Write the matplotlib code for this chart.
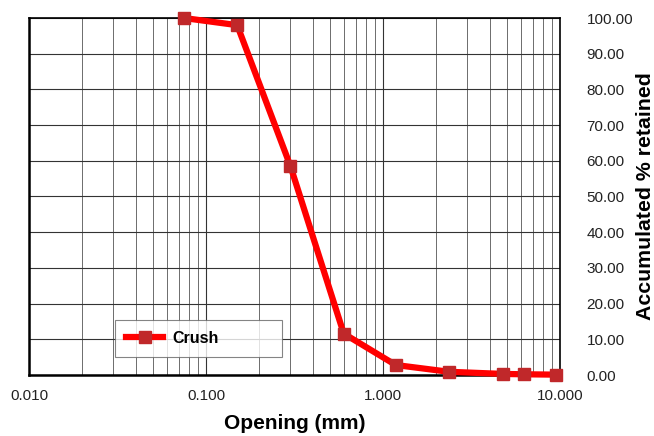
import matplotlib
matplotlib.use("Agg")
import matplotlib.pyplot as plt
from matplotlib.ticker import FixedLocator, LogLocator, NullFormatter

plt.rcParams["font.family"] = ["Liberation Sans", "DejaVu Sans"]

# Sieve openings (mm) and accumulated % retained
opening = [0.075, 0.15, 0.3, 0.6, 1.18, 2.36, 4.75, 6.3, 9.5]
retained = [100.0, 98.0, 58.5, 11.6, 2.8, 0.9, 0.3, 0.2, 0.1]
series_name = "Crush"

x_ticks = [0.01, 0.1, 1.0, 10.0]
x_labels = ["0.010", "0.100", "1.000", "10.000"]
y_ticks = [0, 10, 20, 30, 40, 50, 60, 70, 80, 90, 100]

fig = plt.figure(figsize=(6.54, 4.36), dpi=100)
ax = fig.add_axes([29 / 654, 1 - 375 / 436, 531 / 654, 357 / 436])

ax.plot(opening, retained, color="#ff0000", linewidth=4.5, marker="s",
        markersize=8, markerfacecolor="#c0282a", markeredgecolor="#c0282a",
        label=series_name, zorder=3, clip_on=False)

ax.set_xscale("log")
ax.set_xlim(0.01, 10)
ax.set_ylim(0, 100)

ax.xaxis.set_major_locator(FixedLocator(x_ticks))
ax.set_xticklabels(x_labels)
ax.xaxis.set_minor_locator(LogLocator(base=10, subs=range(2, 10)))
ax.xaxis.set_minor_formatter(NullFormatter())
ax.set_yticks(y_ticks)
ax.set_yticklabels([f"{v:.2f}" for v in y_ticks])

ax.yaxis.tick_right()
ax.yaxis.set_label_position("right")
ax.tick_params(axis="both", which="both", length=0, labelsize=11, colors="#222222")
ax.tick_params(axis="y", pad=19)
ax.tick_params(axis="x", pad=10)

ax.grid(True, which="major", axis="both", color="#333333", linewidth=0.8)
ax.grid(True, which="minor", axis="x", color="#555555", linewidth=0.6)
ax.set_axisbelow(True)

for side in ["left", "bottom", "top", "right"]:
    ax.spines[side].set_color("black")
ax.spines["left"].set_linewidth(1.8)
ax.spines["bottom"].set_linewidth(1.8)
ax.spines["top"].set_linewidth(1.2)
ax.spines["right"].set_linewidth(1.2)

ax.set_xlabel("Opening (mm)", fontsize=15, fontweight="bold", labelpad=8)
ax.set_ylabel("Accumulated % retained", fontsize=15.3, fontweight="bold", labelpad=2)

# legend box stretched to the same width as in the source
leg = ax.legend(loc="lower left", bbox_to_anchor=(0.162, 0.05, 0.315, 0.107),
                mode="expand", fontsize=11.5, frameon=True, fancybox=False,
                borderpad=0.7, borderaxespad=0, handlelength=2.3,
                handletextpad=0.6)
leg.get_frame().set_edgecolor("#666666")
leg.get_frame().set_linewidth(0.8)
for t in leg.get_texts():
    t.set_fontweight("bold")

fig.savefig("out.png", dpi=100)
